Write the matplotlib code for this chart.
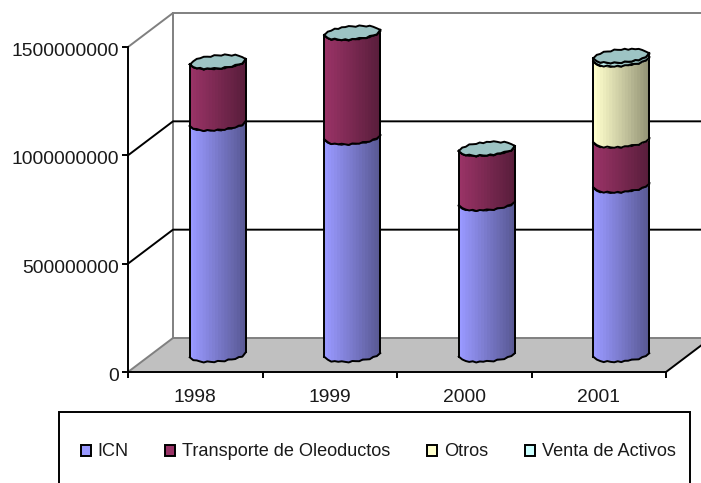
import numpy as np
import matplotlib
matplotlib.use("Agg")
import matplotlib.pyplot as plt
from matplotlib.patches import Patch, Polygon, Rectangle
from matplotlib.transforms import ScaledTranslation

plt.rcParams['font.family'] = ['Liberation Sans', 'DejaVu Sans']

# Datos
years = ["1998", "1999", "2000", "2001"]
icn = [1068e6, 1004e6, 699e6, 782e6]
transporte = [284e6, 482e6, 252e6, 208e6]
otros = [0, 0, 0, 374e6]
venta = [1e6, 1e6, 1e6, 16e6]
names = ["ICN", "Transporte de Oleoductos", "Otros", "Venta de Activos"]
colors = ["#9999FF", "#993366", "#FFFFCC", "#CCFFFF"]
yticks = [0, 500000000, 1000000000, 1500000000]

W, H = 701, 483
fig = plt.figure(figsize=(W / 100, H / 100), dpi=100)
ax = fig.add_axes([128 / W, (H - 372) / H, 538 / W, 325 / H])
ax.set_xlim(0, 4)
ax.set_ylim(0, 1500000000)
fs = 13.9
text_color = "#1a1a1a"

# Tamanos en unidades de datos
px_x = 4 / 538
px_y = 1500000000 / 325
dx = 45 * px_x
dy = 34 * px_y
lw = 1.4
grey = "#808080"

# Suelo y paredes
ax.add_patch(Polygon([(0, 0), (4, 0), (4 + dx, dy), (dx, dy)], fc="#C0C0C0", ec="none",
                     zorder=1, clip_on=False))
ax.plot([0, dx], [0, dy], color=grey, lw=lw, zorder=2, clip_on=False)
ax.plot([dx, 4 + dx], [dy, dy], color=grey, lw=lw, zorder=2, clip_on=False)
ax.plot([4, 4 + dx], [0, dy], color="black", lw=lw, zorder=2, clip_on=False)
ax.plot([dx, dx], [dy, 1500000000 + dy], color=grey, lw=lw, zorder=2, clip_on=False)
ax.plot([0, dx, 4 + dx], [1500000000, 1500000000 + dy, 1500000000 + dy], color=grey, lw=lw,
        zorder=2, clip_on=False)
for v in yticks[1:3]:
    ax.plot([0, dx, 4 + dx], [v, v + dy, v + dy], color="black", lw=lw, zorder=2, clip_on=False)

# Cilindros
rx = 28 * px_x
ry = 6.5 * px_y
tilt = 2.3 * px_y
wobble = np.array([0, .6, 0, -.7, .5, 0, -.5, .6, 0, -.6, .7, 0, -.4, .5, -.6, .4]) * px_y


def edge(cx, cy, u, lower, shift):
    # u va de -1 a 1 a lo ancho del cilindro
    s = np.sqrt(np.clip(1 - u ** 2, 0, 1))
    y = cy + tilt * u + (-ry * s if lower else ry * s)
    idx = np.linspace(0, 15, len(u)).astype(int)
    return y + np.roll(wobble, shift)[idx]


def shade(color, f):
    return tuple(c * f for c in matplotlib.colors.to_rgb(color))


u_poly = np.linspace(-1, 1, 17)
u_fine = np.linspace(-1, 1, 19)
z = 5
for i in range(4):
    cx = i + .5 + dx / 2
    bottom = 0
    for serie, color in zip([icn, transporte, otros, venta], colors):
        v = serie[i]
        if v == 0:
            continue
        y0 = edge(cx, bottom + dy / 2, u_poly, True, i * 3)
        y1 = edge(cx, bottom + v + dy / 2, u_poly, True, i * 3 + 5)
        # franjas solapadas para que no se vean costuras
        for k in range(len(u_fine) - 1):
            ua = u_fine[k:k + 3]
            ax.fill_between(cx + rx * ua, np.interp(ua, u_poly, y0), np.interp(ua, u_poly, y1),
                            color=shade(color, 1 - .42 * (k / 17)), lw=0, zorder=z, clip_on=False)
        xs = cx + rx * u_poly
        ax.plot(xs, y0, color="black", lw=lw, zorder=z + 1, clip_on=False)
        ax.plot(xs, y1, color="black", lw=lw, zorder=z + 1, clip_on=False)
        ax.plot([xs[0], xs[0]], [y0[0], y1[0]], color="black", lw=lw, zorder=z + 1, clip_on=False)
        ax.plot([xs[-1], xs[-1]], [y0[-1], y1[-1]], color="black", lw=lw, zorder=z + 1, clip_on=False)
        bottom += v
        z += 2
    top_low = edge(cx, bottom + dy / 2, u_poly, True, i * 3 + 5)
    top_high = edge(cx, bottom + dy / 2, u_poly, False, i * 3 + 2)
    pts = np.r_[np.c_[cx + rx * u_poly, top_low], np.c_[cx + rx * u_poly, top_high][::-1]]
    ax.add_patch(Polygon(pts, fc=shade(colors[3], .77), ec="black", lw=lw, zorder=z, clip_on=False))
    z += 1

# Ejes
for s in ["top", "right"]:
    ax.spines[s].set_visible(False)
for s in ["left", "bottom"]:
    ax.spines[s].set_linewidth(lw)
    ax.spines[s].set_zorder(3)
ax.patch.set_visible(False)
ax.set_yticks(yticks)
ax.set_yticklabels([str(v) for v in yticks], fontsize=fs, color=text_color)
ax.set_xticks(range(5))
ax.set_xticklabels([])
ax.set_xticks(np.arange(4) + .5, years, minor=True, fontsize=fs, color=text_color)
ax.tick_params(axis="x", which="major", length=4.3, width=lw)
ax.tick_params(axis="x", which="minor", length=0, pad=12)
ax.tick_params(axis="y", length=4.3, width=lw, pad=2.2)
# las etiquetas del eje y quedan un poco por debajo de la marca
offset = ScaledTranslation(0, -2.5 / 100, fig.dpi_scale_trans)
for t in ax.get_yticklabels():
    t.set_transform(t.get_transform() + offset)

# Leyenda
fig.add_artist(Rectangle((59 / W, -.02), 631 / W, (H - 412) / H + .02, transform=fig.transFigure,
                         fc="white", ec="black", lw=lw))
handles = [Patch(fc=c, ec="black", lw=lw) for c in colors]
leg = fig.legend(handles, names, ncol=4, loc="center", bbox_to_anchor=(378 / W, (H - 452) / H),
                 frameon=False, fontsize=13.1, handlelength=.55, handleheight=.55,
                 handletextpad=.35, columnspacing=2.05, labelcolor=text_color)

fig.savefig("out.png", dpi=100)
